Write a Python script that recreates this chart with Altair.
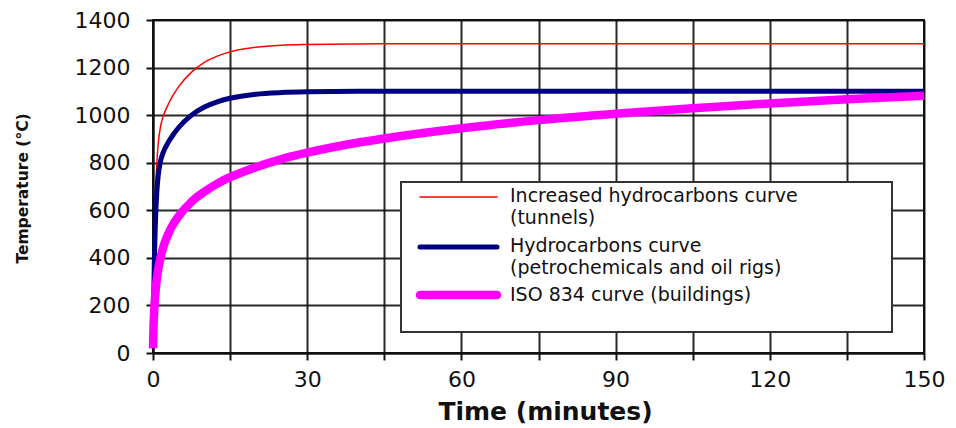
import altair as alt
import pandas as pd

# ---- data ----
time_min = [0, 0.1, 0.25, 0.5, 0.75, 1, 1.5, 2, 3, 4, 5, 7.5, 10, 12.5, 15, 20, 25,
            30, 40, 45, 60, 75, 90, 105, 120, 135, 150]
increased_hc = [20, 218, 439, 670, 800, 877, 956, 996, 1047, 1087, 1120, 1181, 1222,
                1248, 1266, 1285, 1294, 1297, 1299, 1300, 1300, 1300, 1300, 1300,
                1300, 1300, 1300]
hydrocarbons = [20, 187, 373, 568, 678, 743, 810, 844, 887, 920, 948, 1000, 1034,
                1056, 1071, 1088, 1095, 1098, 1100, 1100, 1100, 1100, 1100, 1100,
                1100, 1100, 1100]
iso_834 = [20, 108, 185, 261, 312, 349, 404, 445, 502, 544, 576, 636, 678, 712, 739,
           781, 815, 842, 885, 902, 945, 979, 1006, 1029, 1049, 1067, 1082]

series_names = ["Increased hydrocarbons curve (tunnels)",
                "Hydrocarbons curve (petrochemicals and oil rigs)",
                "ISO 834 curve (buildings)"]
series_values = [increased_hc, hydrocarbons, iso_834]
series_colors = ["#ff0000", "#000080", "#ff00ff"]
series_widths = [1.5, 5, 8.5]

legend_lines = [["Increased hydrocarbons curve", "(tunnels)"],
                ["Hydrocarbons curve", "(petrochemicals and oil rigs)"],
                ["ISO 834 curve (buildings)"]]

x_ticks = list(range(0, 151, 15))
y_ticks = list(range(0, 1401, 200))

FONT = "DejaVu Sans"
INK = "#111111"

x_enc = alt.X("time:Q",
              scale=alt.Scale(domain=[0, 150], nice=False, zero=True),
              axis=alt.Axis(values=x_ticks,
                            labelExpr="datum.value % 30 === 0 ? datum.label : ''",
                            labelFlush=False, labelOverlap=False, labelPadding=9,
                            title="Time (minutes)", titleFontSize=25,
                            titleX=392, titleY=58, titleAlign="center",
                            titleBaseline="middle"))
y_enc = alt.Y("temp:Q",
              scale=alt.Scale(domain=[0, 1400], nice=False),
              axis=alt.Axis(values=y_ticks, format="d", labelPadding=16,
                            labelOverlap=False,
                            title="Temperature (°C)", titleFontSize=15.5,
                            titleAngle=270, titleX=-131, titleY=168,
                            titleAlign="center", titleBaseline="middle"))

layers = []
for name, vals, col, w in zip(series_names, series_values, series_colors, series_widths):
    d = pd.DataFrame({"time": time_min, "temp": vals, "series": name})
    layers.append(
        alt.Chart(d).mark_line(color=col, strokeWidth=w, interpolate="monotone")
        .encode(x=x_enc, y=y_enc)
    )

# legend box (layout in pixels of the plot area)
box = alt.Chart(pd.DataFrame({"k": [0]})).mark_rect(
    fill="white", stroke="#333333", strokeWidth=2
).encode(x=alt.value(248), x2=alt.value(739), y=alt.value(162), y2=alt.value(312))
layers.append(box)

sym_y = [177, 227, 275]
for i, (col, w) in enumerate(zip(series_colors, series_widths)):
    layers.append(
        alt.Chart(pd.DataFrame({"k": [0]})).mark_rule(
            color=col, strokeWidth=w, strokeCap="round"
        ).encode(x=alt.value(267), x2=alt.value(344), y=alt.value(sym_y[i]))
    )

text_y = [[176, 198], [226, 248], [275]]
for lines, ys in zip(legend_lines, text_y):
    for line, yy in zip(lines, ys):
        layers.append(
            alt.Chart(pd.DataFrame({"label": [line]})).mark_text(
                align="left", baseline="middle", font=FONT, fontSize=19, color=INK
            ).encode(x=alt.value(357), y=alt.value(yy), text="label:N")
        )

chart = alt.layer(*layers).properties(
    width=771, height=333,
    autosize=alt.AutoSizeParams(type="none"),
    padding={"left": 153, "top": 20, "right": 32, "bottom": 75},
    background="white",
).configure_axis(
    grid=True, gridColor=INK, gridWidth=2, gridOpacity=0.9,
    domainColor=INK, domainWidth=2,
    tickColor=INK, tickWidth=2, tickSize=7,
    labelFont=FONT, labelFontSize=22, labelColor=INK,
    titleFont=FONT, titleFontWeight="bold", titleColor=INK,
).configure_view(stroke=INK, strokeWidth=2)

chart.save("out.html", embed_options={"renderer": "svg", "actions": False})
